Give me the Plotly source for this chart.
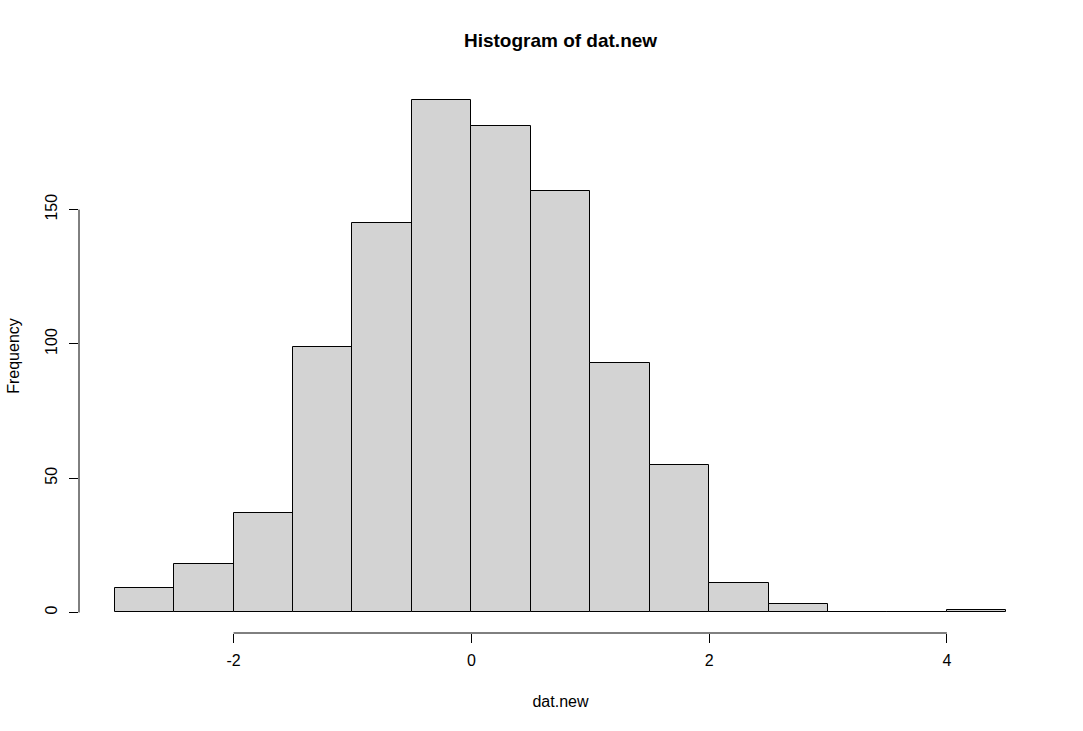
import plotly.graph_objects as go

# Histogram data (bin edges and counts)
bin_edges = [-3.0, -2.5, -2.0, -1.5, -1.0, -0.5, 0.0, 0.5, 1.0, 1.5, 2.0, 2.5, 3.0, 3.5, 4.0, 4.5]
counts = [9, 18, 37, 99, 145, 191, 181, 157, 93, 55, 11, 3, 0, 0, 1]

x_ticks = [-2, 0, 2, 4]
y_ticks = [0, 50, 100, 150]

title_text = "Histogram of dat.new"
x_label = "dat.new"
y_label = "Frequency"

centers = [(a + b) / 2 for a, b in zip(bin_edges[:-1], bin_edges[1:])]
widths = [b - a for a, b in zip(bin_edges[:-1], bin_edges[1:])]

# R-style 4% axis extension
xlo, xhi = bin_edges[0], bin_edges[-1]
xpad = 0.04 * (xhi - xlo)
ylo, yhi = 0, max(counts)
ypad = 0.04 * (yhi - ylo)

FONT = "Liberation Sans, Arial, sans-serif"

fig = go.Figure()
fig.add_trace(go.Bar(
    x=centers, y=counts, width=widths,
    marker=dict(color="#D3D3D3", line=dict(color="black", width=1)),
    hoverinfo="x+y",
))

# R-style axis lines spanning only the tick range
fig.add_shape(type="line", xref="x", yref="paper",
              x0=min(x_ticks), x1=max(x_ticks), y0=0, y1=0,
              line=dict(color="black", width=1))
fig.add_shape(type="line", xref="paper", yref="y",
              x0=0, x1=0, y0=min(y_ticks), y1=max(y_ticks),
              line=dict(color="black", width=1))

fig.update_layout(
    width=1083, height=731,
    margin=dict(l=79, r=41, t=79, b=98),
    paper_bgcolor="white", plot_bgcolor="white",
    font=dict(family=FONT, size=16, color="black"),
    showlegend=False,
    bargap=0,
    title=dict(text="<b>" + title_text + "</b>", font=dict(size=19, family=FONT, color="black"),
               x=(79 + 1083 - 41) / 2 / 1083, xanchor="center",
               y=1 - 40 / 731, yanchor="middle", yref="container"),
    xaxis=dict(range=[xlo - xpad, xhi + xpad], tickvals=x_ticks,
               ticktext=[str(v) for v in x_ticks],
               ticks="outside", ticklen=9, tickwidth=1, tickcolor="black",
               ticklabelstandoff=4, automargin=False,
               showline=False, showgrid=False, zeroline=False,
               tickfont=dict(size=16),
               title=dict(text=x_label, font=dict(size=16), standoff=27)),
    yaxis=dict(range=[ylo - ypad, yhi + ypad], tickvals=y_ticks,
               ticktext=[str(v) for v in y_ticks],
               ticks="outside", ticklen=9, tickwidth=1, tickcolor="black",
               tickangle=-90, ticklabelstandoff=6, automargin=False,
               showline=False, showgrid=False, zeroline=False,
               tickfont=dict(size=16),
               title=dict(text=y_label, font=dict(size=16), standoff=18)),
)

fig.write_html("out.html", config={"displayModeBar": False},
               post_script="document.body.style.margin='0';document.body.style.overflow='hidden';")
